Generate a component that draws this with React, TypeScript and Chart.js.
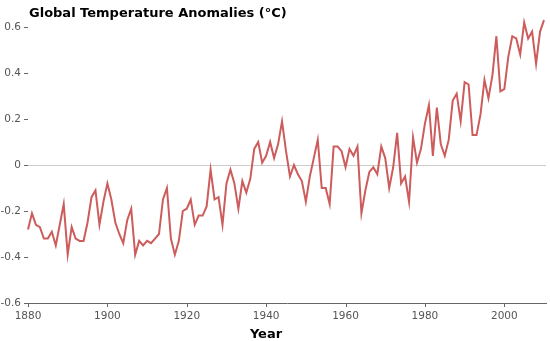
import React, { useEffect, useRef } from 'react';
import { Chart, registerables } from 'chart.js';

Chart.register(...registerables);

const chartTitle = 'Global Temperature Anomalies (°C)';
const xAxisTitle = 'Year';

const years = [
  1880, 1881, 1882, 1883, 1884, 1885, 1886, 1887, 1888, 1889,
  1890, 1891, 1892, 1893, 1894, 1895, 1896, 1897, 1898, 1899,
  1900, 1901, 1902, 1903, 1904, 1905, 1906, 1907, 1908, 1909,
  1910, 1911, 1912, 1913, 1914, 1915, 1916, 1917, 1918, 1919,
  1920, 1921, 1922, 1923, 1924, 1925, 1926, 1927, 1928, 1929,
  1930, 1931, 1932, 1933, 1934, 1935, 1936, 1937, 1938, 1939,
  1940, 1941, 1942, 1943, 1944, 1945, 1946, 1947, 1948, 1949,
  1950, 1951, 1952, 1953, 1954, 1955, 1956, 1957, 1958, 1959,
  1960, 1961, 1962, 1963, 1964, 1965, 1966, 1967, 1968, 1969,
  1970, 1971, 1972, 1973, 1974, 1975, 1976, 1977, 1978, 1979,
  1980, 1981, 1982, 1983, 1984, 1985, 1986, 1987, 1988, 1989,
  1990, 1991, 1992, 1993, 1994, 1995, 1996, 1997, 1998, 1999,
  2000, 2001, 2002, 2003, 2004, 2005, 2006, 2007, 2008, 2009,
  2010,
];

const anomalies = [
  -0.28, -0.21, -0.26, -0.27, -0.32, -0.32, -0.29, -0.35, -0.26, -0.17,
  -0.39, -0.27, -0.32, -0.33, -0.33, -0.25, -0.14, -0.11, -0.26, -0.16,
  -0.08, -0.15, -0.25, -0.30, -0.34, -0.24, -0.19, -0.39, -0.33, -0.35,
  -0.33, -0.34, -0.32, -0.30, -0.15, -0.10, -0.32, -0.39, -0.33, -0.20,
  -0.19, -0.15, -0.26, -0.22, -0.22, -0.18, -0.02, -0.15, -0.14, -0.26,
  -0.08, -0.02, -0.08, -0.19, -0.07, -0.12, -0.06, 0.07, 0.10, 0.01,
  0.04, 0.10, 0.03, 0.09, 0.19, 0.06, -0.05, 0.00, -0.04, -0.07,
  -0.16, -0.05, 0.03, 0.11, -0.10, -0.10, -0.17, 0.08, 0.08, 0.06,
  -0.01, 0.07, 0.04, 0.08, -0.21, -0.11, -0.03, -0.01, -0.04, 0.08,
  0.03, -0.10, -0.01, 0.14, -0.08, -0.05, -0.16, 0.12, 0.01, 0.07,
  0.18, 0.26, 0.04, 0.25, 0.09, 0.04, 0.11, 0.28, 0.31, 0.19,
  0.36, 0.35, 0.13, 0.13, 0.22, 0.37, 0.29, 0.39, 0.56, 0.32,
  0.33, 0.47, 0.56, 0.55, 0.48, 0.62, 0.55, 0.58, 0.44, 0.58,
  0.63,
];

const xTickValues = [1880, 1900, 1920, 1940, 1960, 1980, 2000];
const yTickValues = [-0.6, -0.4, -0.2, 0, 0.2, 0.4, 0.6];

const FONT = '"DejaVu Sans", Verdana, sans-serif';

const textPlugin = {
  id: 'textPlugin',
  afterDraw(chart: any) {
    const ctx = chart.ctx;
    ctx.save();
    ctx.fillStyle = '#000';
    ctx.textBaseline = 'alphabetic';
    ctx.font = `bold 13px ${FONT}`;
    ctx.textAlign = 'left';
    ctx.fillText(chartTitle, 29, 17);
    ctx.textAlign = 'center';
    ctx.fillText(xAxisTitle, 266, 338);
    ctx.restore();
  },
};

const tickMarkPlugin = {
  id: 'tickMarkPlugin',
  afterDraw(chart: any) {
    const ctx = chart.ctx;
    const xs = chart.scales.x;
    const ys = chart.scales.y;
    const area = chart.chartArea;
    ctx.save();
    ctx.strokeStyle = '#666';
    ctx.lineWidth = 1;
    ctx.beginPath();
    yTickValues.forEach((v) => {
      const py = Math.round(ys.getPixelForValue(v)) + 0.5;
      ctx.moveTo(area.left - 4, py);
      ctx.lineTo(area.left, py);
    });
    xTickValues.forEach((v) => {
      const px = Math.round(xs.getPixelForValue(v)) + 0.5;
      ctx.moveTo(px, area.bottom);
      ctx.lineTo(px, area.bottom + 4);
    });
    ctx.stroke();
    ctx.restore();
  },
};

export default function App() {
  const canvasRef = useRef<HTMLCanvasElement | null>(null);

  useEffect(() => {
    const canvas = canvasRef.current;
    if (!canvas) return;
    const chart = new Chart(canvas, {
      type: 'line',
      data: {
        datasets: [
          {
            data: years.map((y, i) => ({ x: y, y: anomalies[i] })),
            borderColor: '#cd5c5c',
            borderWidth: 2,
            pointRadius: 0,
            tension: 0,
            fill: false,
            clip: false,
          },
        ],
      },
      options: {
        animation: false,
        responsive: false,
        devicePixelRatio: 1,
        layout: { padding: { left: 0, right: 4, top: 27, bottom: 18 } },
        plugins: {
          legend: { display: false },
          tooltip: { enabled: false },
          title: { display: false },
        },
        scales: {
          x: {
            type: 'linear',
            min: 1880,
            max: 2010.5,
            afterBuildTicks: (scale: any) => {
              scale.ticks = xTickValues.map((v) => ({ value: v }));
            },
            afterFit: (scale: any) => {
              scale.height = 20;
            },
            border: { display: true, color: '#666', width: 1 },
            grid: {
              drawOnChartArea: false,
              drawTicks: true,
              tickLength: 4,
              tickColor: 'rgba(0,0,0,0)',
            },
            ticks: {
              padding: 3,
              color: '#555',
              font: { family: FONT, size: 10.5 },
              maxRotation: 0,
              callback: (v: any) => String(v),
            },
          },
          y: {
            type: 'linear',
            min: -0.6,
            max: 0.6,
            afterBuildTicks: (scale: any) => {
              scale.ticks = yTickValues.map((v) => ({ value: v }));
            },
            afterFit: (scale: any) => {
              scale.width = 28;
            },
            border: { display: false },
            grid: {
              drawOnChartArea: true,
              drawTicks: true,
              tickLength: 4,
              color: (c: any) => (c.tick && Math.abs(c.tick.value) < 1e-9 ? '#cccccc' : 'rgba(0,0,0,0)'),
              tickColor: 'rgba(0,0,0,0)',
            },
            ticks: {
              padding: 3,
              color: '#555',
              font: { family: FONT, size: 10.5 },
              callback: (v: any) => {
                const n = Math.round(Number(v) * 10) / 10;
                return n === 0 ? '0' : String(n);
              },
            },
          },
        },
      },
      plugins: [textPlugin, tickMarkPlugin],
    });
    return () => chart.destroy();
  }, []);

  return (
    <div style={{ position: 'fixed', left: 0, top: 0, width: 550, height: 341, background: '#fff' }}>
      <canvas ref={canvasRef} width={550} height={341} style={{ display: 'block', width: 550, height: 341 }} />
    </div>
  );
}
